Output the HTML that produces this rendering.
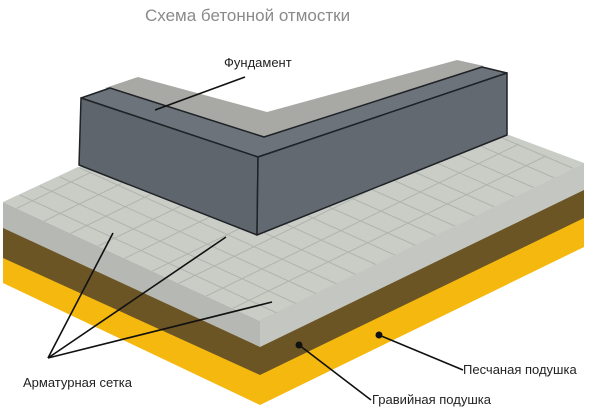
<!DOCTYPE html>
<html><head><meta charset="utf-8"><style>
html,body{margin:0;padding:0;background:#fff;width:600px;height:416px;overflow:hidden}
svg{display:block}
text{font-family:"Liberation Sans",sans-serif}
</style></head><body>
<svg width="600" height="416" viewBox="0 0 600 416">
<defs>
<clipPath id="top"><polygon points="78,167 3,202 260,321 584,163 509,135 507,135 258,235 78,167"/></clipPath>
</defs>
<polygon points="3,252 260,370 584,214 584,247 260,405 3,283" fill="#f5b80f"/>
<polygon points="3,226 260,345 584,188 584,218 260,375 3,258" fill="#6c5524"/>
<polygon points="3,202 260,321 260,347 3,228" fill="#b6b8b3"/>
<polygon points="260,321 584,163 584,190 260,347" fill="#c4c6c1"/>
<polygon points="78,167 3,202 260,321 584,163 509,135" fill="#c9cdc6"/>
<g clip-path="url(#top)" stroke="#b0b4ae" stroke-width="1" fill="none">
<path d="M20,195 L277,313 M40,186 L297,304 M60,177 L317,294 M80,168 L337,284 M100,158 L357,275 M120,150 L377,265 M140,140 L397,256 M160,132 L417,246 M180,122 L437,236 M200,114 L457,227 M220,104 L477,217 M240,96 L497,208 M260,86 L517,198 M280,78 L537,189 M300,68 L557,179 M320,60 L577,170"/>
<path d="M3,215 L330,56 M30,228 L357,69 M57,240 L384,81 M84,253 L411,94 M111,265 L438,106 M138,278 L465,119 M165,290 L492,131 M192,303 L519,144 M219,315 L546,156 M246,328 L573,169"/>
</g>
<polygon points="105,88 138,77 267,112 457,60 484,66 264,137" fill="#a8a9a5"/>
<polygon points="81,98 110,88 264,137 482,67 507,73 258,157" fill="#6c737a" stroke="#1f2226" stroke-width="1.5" stroke-linejoin="round"/>
<polygon points="81,98 258,157 257,235 79,165" fill="#5e656c" stroke="#1f2226" stroke-width="1.5" stroke-linejoin="round"/>
<polygon points="258,157 507,73 507,135 257,235" fill="#626970" stroke="#1f2226" stroke-width="1.5" stroke-linejoin="round"/>
<g stroke="#111" stroke-width="1.6" fill="none">
<line x1="245" y1="77" x2="155" y2="110"/>
<line x1="48" y1="358" x2="113" y2="233"/>
<line x1="48" y1="358" x2="226" y2="237"/>
<line x1="48" y1="358" x2="272" y2="302"/>
<line x1="299" y1="345" x2="371" y2="400"/>
<line x1="379" y1="335" x2="463" y2="370"/>
</g>
<circle cx="299" cy="345" r="3.5" fill="#111"/>
<circle cx="379" cy="335" r="3.5" fill="#111"/>
<text x="145" y="21" font-size="17" fill="#8a8a8a">Схема бетонной отмостки</text>
<text x="224" y="67" font-size="13" fill="#222">Фундамент</text>
<text x="23" y="387" font-size="13" fill="#222">Арматурная сетка</text>
<text x="372" y="404" font-size="13" fill="#222">Гравийная подушка</text>
<text x="463" y="374" font-size="13" fill="#222">Песчаная подушка</text>
</svg>
</body></html>
